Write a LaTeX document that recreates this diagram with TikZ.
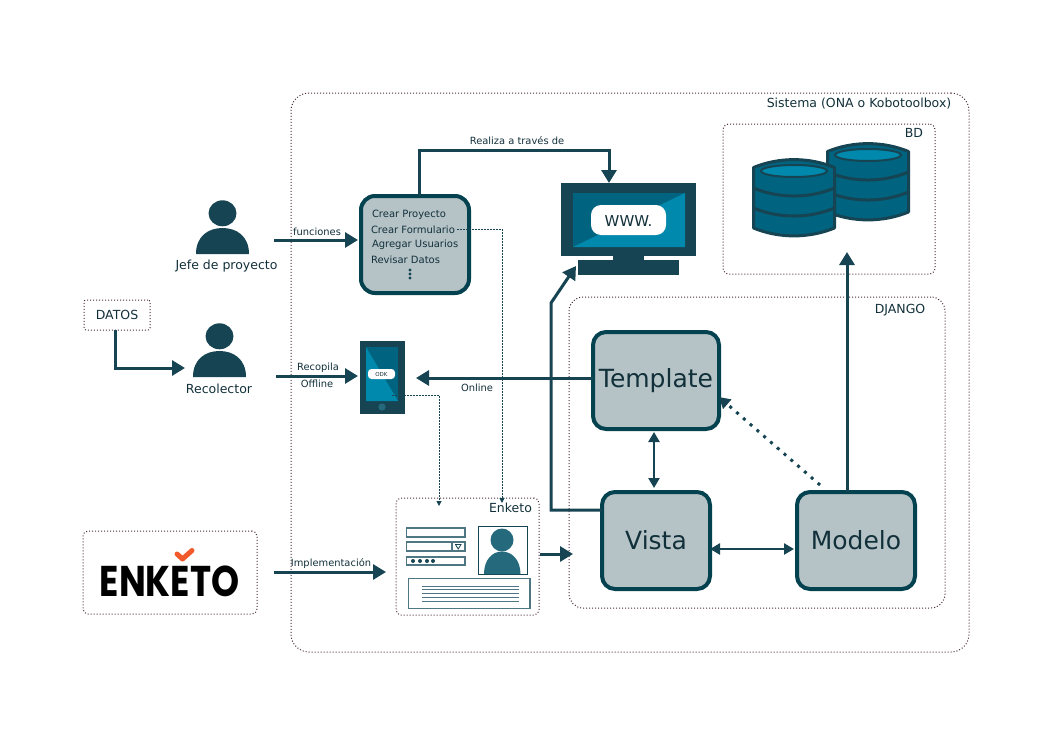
\documentclass[tikz,border=0pt]{standalone}
\usepackage{fontspec}
\setmainfont{DejaVu Sans}
\newfontfamily\logofont{Poppins}
\usetikzlibrary{arrows.meta,calc}
\definecolor{dk}{HTML}{174452}
\definecolor{bord}{HTML}{04424F}
\definecolor{tealA}{HTML}{00637F}
\definecolor{tealB}{HTML}{0088AD}
\definecolor{boxf}{HTML}{B5C3C7}
\definecolor{txt}{HTML}{12303A}
\definecolor{dotc}{HTML}{4A2A38}
\definecolor{photo}{HTML}{256A7C}
\definecolor{fieldc}{HTML}{4F7683}
\definecolor{orangec}{HTML}{F15A2B}
\tikzset{
  fs/.style={font=\fontsize{#1}{#1}\selectfont,text=txt,inner sep=0pt,outer sep=0pt},
  frame/.style={draw=dotc,line width=1pt,dash pattern=on 1pt off 2pt,fill=none,inner sep=0pt,outer sep=0pt},
  mvc/.style={draw=bord,line width=4pt,fill=boxf,rounded corners=13pt,inner sep=0pt,outer sep=0pt,font=\fontsize{25}{25}\selectfont,text=txt},
  flow/.style={draw=dk,line width=3pt,-{Triangle[length=13pt,width=15pt]}},
  flowtwo/.style={draw=dk,line width=2.4pt,{Triangle[length=10pt,width=11pt]}-{Triangle[length=10pt,width=11pt]}},
  thindot/.style={draw=dk,line width=1pt,dash pattern=on 1.5pt off 1.5pt,-{Triangle[length=5pt,width=5pt]}},
  field/.style={draw=fieldc,line width=1.3pt,fill=white},
  person/.pic={
    \fill[dk] (0,-27.7) circle[x radius=14,y radius=13];
    \fill[dk] (-26.5,13) .. controls (-26.5,-5) and (-14,-13) .. (0,-13) .. controls (14,-13) and (26.5,-5) .. (26.5,13) -- cycle;
  },
  cyl/.pic={
    \path[fill=tealA,draw=dk,line width=3pt,line join=round] (-40.5,-29.5) .. controls (-15,-40) and (15,-40) .. (40.5,-29.5) -- (40.5,31) .. controls (15,41.5) and (-15,41.5) .. (-40.5,31) -- cycle;
    \draw[dk,line width=3pt] (-40.5,-9) .. controls (-15,1.7) and (15,1.7) .. (40.5,-9);
    \draw[dk,line width=3pt] (-40.5,11) .. controls (-15,21.7) and (15,21.7) .. (40.5,11);
    \path[fill=tealB,draw=dk,line width=2pt] (0,-26) circle[x radius=33,y radius=6];
  }
}
\begin{document}
\begin{tikzpicture}[x=1pt,y=-1pt]
\useasboundingbox (0,0) rectangle (1052,744);

% frames
\node[frame,rounded corners=18pt,minimum width=678pt,minimum height=559pt] (sistema) at (630,372.5) {};
\node[frame,rounded corners=6pt,minimum width=212pt,minimum height=150pt] (bd) at (829,199) {};
\node[frame,rounded corners=14pt,minimum width=376pt,minimum height=311pt] (django) at (757,452.5) {};
\node[frame,rounded corners=5pt,minimum width=143pt,minimum height=117pt] (enkbox) at (467.5,556.5) {};
\node[frame,rounded corners=5pt,minimum width=174pt,minimum height=83pt] (logobox) at (170,572.5) {};
\node[frame,rounded corners=2pt,minimum width=66pt,minimum height=30pt,fs=12.5] (datos) at (117,315) {DATOS};

% frame labels
\node[fs=12.5] (lsis) at (859,104) {Sistema (ONA o Kobotoolbox)};
\node[fs=12.5] (lbd) at (914,133) {BD};
\node[fs=12.5] (ldj) at (900,310) {DJANGO};
\node[fs=12.5] (lenk) at (510.5,508) {Enketo};

% persons
\path (222.5,241) pic {person};
\node[inner sep=0pt,outer sep=0pt,minimum width=53pt,minimum height=54pt] (jefe) at (222.5,227) {};
\node[fs=12.5] (ljefe) at (226.5,266) {Jefe de proyecto};
\path (219.5,364) pic {person};
\node[inner sep=0pt,outer sep=0pt,minimum width=53pt,minimum height=54pt] (reco) at (219.5,350) {};
\node[fs=12.5] (lreco) at (219,389) {Recolector};

% functions box
\node[mvc,rounded corners=14pt,minimum width=108pt,minimum height=97pt] (func) at (415,244.5) {};
\node[fs=10,anchor=west] (f1) at (372,215) {Crear Proyecto};
\node[fs=10,anchor=west] (f2) at (371,230) {Crear Formulario};
\node[fs=10,anchor=west] (f3) at (372,244.5) {Agregar Usuarios};
\node[fs=10,anchor=west] (f4) at (371,260) {Revisar Datos};
\foreach \yy in {270,274,278} \fill[dk] (410,\yy) circle[radius=1.6];

% monitor
\node[fill=dk,minimum width=135pt,minimum height=73pt,inner sep=0pt,outer sep=0pt] (monitor) at (628.5,219.5) {};
\fill[tealA] (573,193) rectangle (685,247);
\fill[tealB] (573,247) -- (685,193) -- (685,247) -- cycle;
\fill[dk] (613,256) rectangle (644,261);
\fill[dk] (578,260) rectangle (679,275);
\node[fill=white,rounded corners=10pt,minimum width=75pt,minimum height=30pt] (www) at (628.5,220) {};
\node[fs=15] (lwww) at (628.5,221) {WWW.};

% phone
\node[fill=dk,minimum width=45pt,minimum height=73pt,inner sep=0pt,outer sep=0pt] (phone) at (382.5,377.5) {};
\fill[tealA] (366,347) rectangle (398,401);
\fill[tealB] (366,347) -- (398,401) -- (366,401) -- cycle;
\fill[photo] (382,407) circle[radius=3.6];
\node[fill=white,rounded corners=3.5pt,minimum width=27pt,minimum height=10pt,fs=5.5] (odk) at (381.5,374) {ODK};

% MVC
\node[mvc,minimum width=126pt,minimum height=97pt] (template) at (656,380.5) {Template};
\node[mvc,minimum width=108pt,minimum height=97pt] (vista) at (656,540.5) {Vista};
\node[mvc,minimum width=118pt,minimum height=97pt] (modelo) at (856,540.5) {Modelo};

% databases
\path (868,181) pic {cyl};
\path (794,197) pic {cyl};

% enketo form
\draw[field] (406.5,528) rectangle (465,537);
\draw[field] (406.5,542) rectangle (465,551);
\draw[field] (452,542) -- (452,551);
\draw[dk,line width=0.8pt] (455.5,544.5) -- (461,544.5) -- (458.2,549) -- cycle;
\draw[field] (406.5,557) rectangle (465,565);
\foreach \xx in {413,420,427,433} \fill[dk] (\xx,561) circle[radius=2];
\draw[draw=dk,line width=1pt,fill=white] (478,526) rectangle (527,574);
\fill[photo] (502,540) circle[radius=11.5];
\fill[photo] (484,574) .. controls (484,560) and (492,551.5) .. (502,551.5) .. controls (512,551.5) and (520.5,560) .. (520.5,574) -- cycle;
\draw[draw=fieldc,line width=1.3pt,fill=white] (408.5,578.5) rectangle (530,608.5);
\foreach \yy in {586,589.5,593.5,597,601} \draw[fieldc,line width=1pt] (422,\yy) -- (519,\yy);

% enketo logo
\node[inner sep=0pt,outer sep=0pt] (logo) at (169.5,581.5) {\logofont\bfseries\fontsize{43}{43}\selectfont\scalebox{0.83}[1]{ENKETO}};
\draw[orangec,line width=5pt,line cap=round,line join=round] (177,554) -- (182.5,559) -- (192,550.5);

% free end coordinates
\coordinate (jefeout) at (274,240);
\coordinate (jefein) at (358,240);
\coordinate (recout) at (276,376);
\coordinate (recin) at (358,376);
\coordinate (logoout) at (274,572);
\coordinate (enkin) at (386,572);
\coordinate (realiza) at (419,150);
\coordinate (formout) at (457,229);
\coordinate (phoneout) at (392,395);
\coordinate (vistaA) at (551,510);
\coordinate (vistaB) at (551,303);
\coordinate (monin) at (576,266);
\coordinate (onlinetip) at (416,378);
\coordinate (enkout) at (540,554);
\coordinate (vistain) at (573,554);

% connectors
\draw[flow] (jefeout) -- (jefein);
\draw[flow] (recout) -- (recin);
\draw[flow] (datos.south -| 115,330) -- (115,368) -- (185,368);
\draw[flow] (logoout) -- (enkin);
\draw[flow] (func.north -| realiza) -- (realiza) -- (609,150) -- (monitor.north -| 609,0);
\draw[flow] (template.west |- onlinetip) -- (onlinetip);
\draw[flow] (vista.west |- vistaA) -- (vistaA) -- (vistaB) -- (monin);
\draw[flow] (enkout) -- (vistain);
\draw[flowtwo] (654,432) -- (654,488);
\draw[flowtwo] (vista.east |- 0,549) -- (794,549);
\draw[flow] (modelo.north -| 847,0) -- (847,252);
\draw[draw=dk,line width=3pt,dash pattern=on 3pt off 6pt,-{Triangle[length=11pt,width=12pt]}] (820,485) -- (719,397);
\draw[thindot] (formout) -- (502,229) -- (502,503);
\draw[thindot] (phoneout) -- (439,395) -- (439,506);

% labels
\node[fs=9.9] (l1) at (517,141) {Realiza a través de};
\node[fs=9.9] (l2) at (317,232) {funciones};
\node[fs=9.9] (l3) at (318,368) {Recopila};
\node[fs=9.9] (l4) at (317,383.5) {Offline};
\node[fs=9.9] (l5) at (477,387.5) {Online};
\node[fs=9.9] (l6) at (331,563.5) {Implementación};
\end{tikzpicture}
\end{document}
